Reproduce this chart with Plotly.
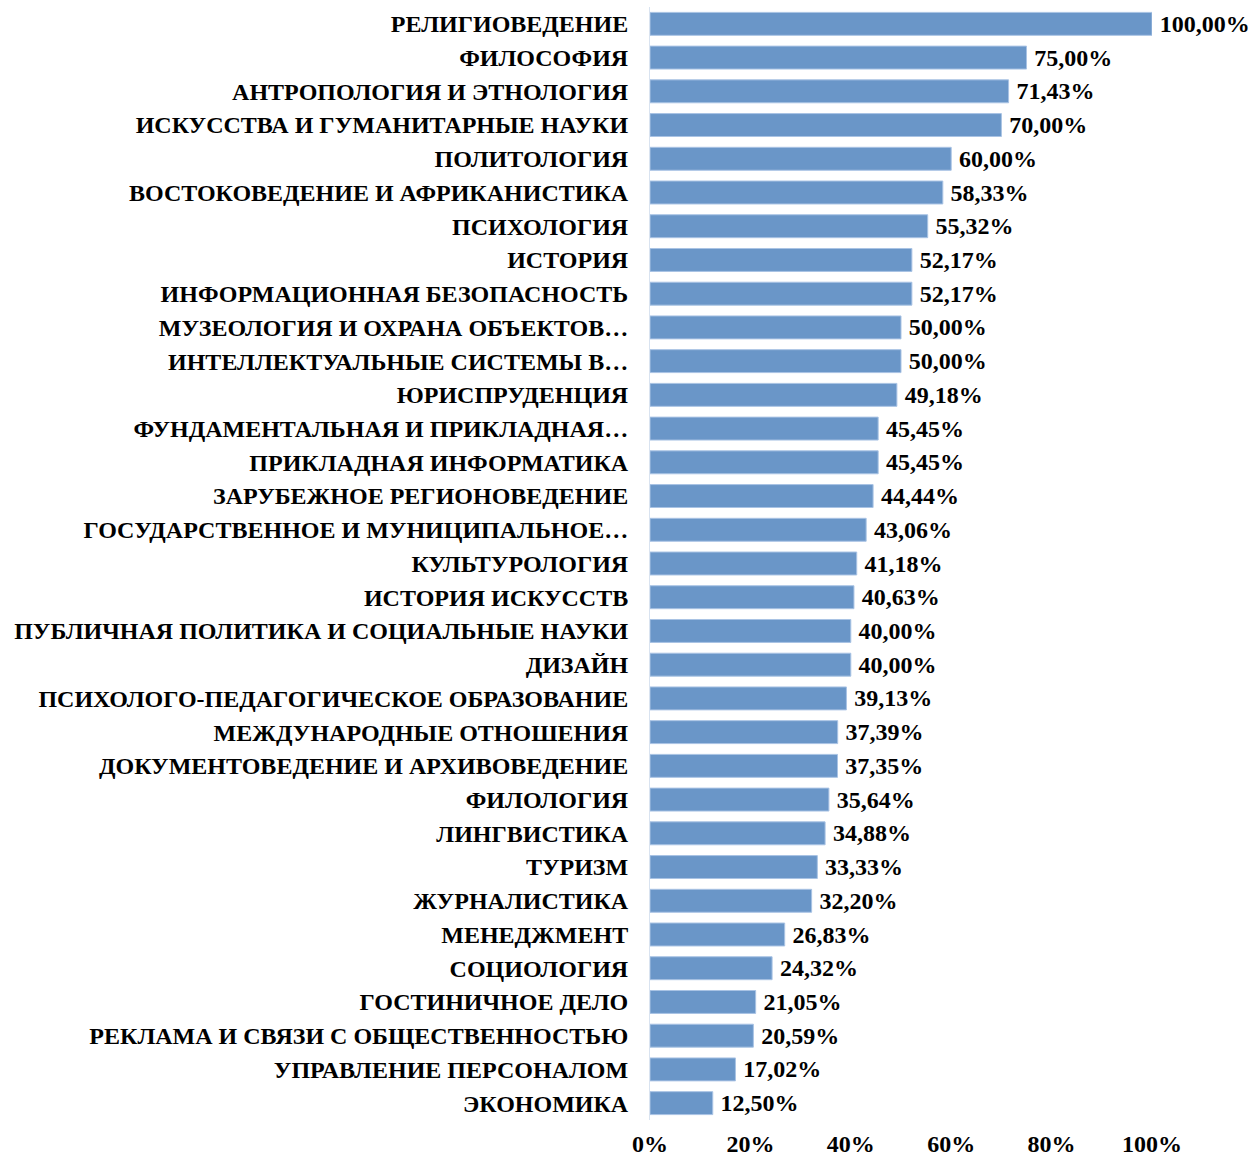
import plotly.graph_objects as go

categories = [
    "РЕЛИГИОВЕДЕНИЕ", "ФИЛОСОФИЯ", "АНТРОПОЛОГИЯ И ЭТНОЛОГИЯ",
    "ИСКУССТВА И ГУМАНИТАРНЫЕ НАУКИ", "ПОЛИТОЛОГИЯ",
    "ВОСТОКОВЕДЕНИЕ И АФРИКАНИСТИКА", "ПСИХОЛОГИЯ", "ИСТОРИЯ",
    "ИНФОРМАЦИОННАЯ БЕЗОПАСНОСТЬ", "МУЗЕОЛОГИЯ И ОХРАНА ОБЪЕКТОВ…",
    "ИНТЕЛЛЕКТУАЛЬНЫЕ СИСТЕМЫ В…", "ЮРИСПРУДЕНЦИЯ",
    "ФУНДАМЕНТАЛЬНАЯ И ПРИКЛАДНАЯ…", "ПРИКЛАДНАЯ ИНФОРМАТИКА",
    "ЗАРУБЕЖНОЕ РЕГИОНОВЕДЕНИЕ", "ГОСУДАРСТВЕННОЕ И МУНИЦИПАЛЬНОЕ…",
    "КУЛЬТУРОЛОГИЯ", "ИСТОРИЯ ИСКУССТВ",
    "ПУБЛИЧНАЯ ПОЛИТИКА И СОЦИАЛЬНЫЕ НАУКИ", "ДИЗАЙН",
    "ПСИХОЛОГО-ПЕДАГОГИЧЕСКОЕ ОБРАЗОВАНИЕ", "МЕЖДУНАРОДНЫЕ ОТНОШЕНИЯ",
    "ДОКУМЕНТОВЕДЕНИЕ И АРХИВОВЕДЕНИЕ", "ФИЛОЛОГИЯ", "ЛИНГВИСТИКА",
    "ТУРИЗМ", "ЖУРНАЛИСТИКА", "МЕНЕДЖМЕНТ", "СОЦИОЛОГИЯ",
    "ГОСТИНИЧНОЕ ДЕЛО", "РЕКЛАМА И СВЯЗИ С ОБЩЕСТВЕННОСТЬЮ",
    "УПРАВЛЕНИЕ ПЕРСОНАЛОМ", "ЭКОНОМИКА",
]
values = [
    100.00, 75.00, 71.43, 70.00, 60.00, 58.33, 55.32, 52.17, 52.17, 50.00,
    50.00, 49.18, 45.45, 45.45, 44.44, 43.06, 41.18, 40.63, 40.00, 40.00,
    39.13, 37.39, 37.35, 35.64, 34.88, 33.33, 32.20, 26.83, 24.32, 21.05,
    20.59, 17.02, 12.50,
]
tick_vals = [0, 20, 40, 60, 80, 100]
tick_text = ["0%", "20%", "40%", "60%", "80%", "100%"]

labels = ["\u2009" + f"{v:.2f}%".replace(".", ",") for v in values]

font_family = "Liberation Serif, Times New Roman, serif"
bold_font = dict(family=font_family, size=24, color="black", weight="bold")

fig = go.Figure(go.Bar(
    x=values,
    y=categories,
    orientation="h",
    marker=dict(color="#6a96c8", line=dict(color="#a9c3e4", width=1)),
    text=labels,
    textposition="outside",
    constraintext="none",
    cliponaxis=False,
    textfont=bold_font,
))

fig.update_layout(
    width=1255,
    height=1157,
    margin=dict(l=650, r=103, t=7, b=37, autoexpand=False),
    paper_bgcolor="white",
    plot_bgcolor="white",
    bargap=0.32,
    showlegend=False,
    font=bold_font,
)
fig.update_xaxes(
    range=[0, 100],
    tickvals=tick_vals,
    ticktext=tick_text,
    showgrid=False,
    zeroline=False,
    showline=False,
    ticks="",
    automargin=False,
    ticklabelstandoff=7,
    tickfont=bold_font,
)
fig.update_yaxes(
    autorange="reversed",
    showgrid=False,
    showline=True,
    linecolor="#d9e3f0",
    linewidth=1,
    ticks="",
    automargin=False,
    ticklabelstandoff=16,
    tickfont=bold_font,
)

fig.write_html(
    "out.html",
    config={"displayModeBar": False},
    post_script="document.body.style.margin='0';document.body.style.overflow='hidden';",
)
